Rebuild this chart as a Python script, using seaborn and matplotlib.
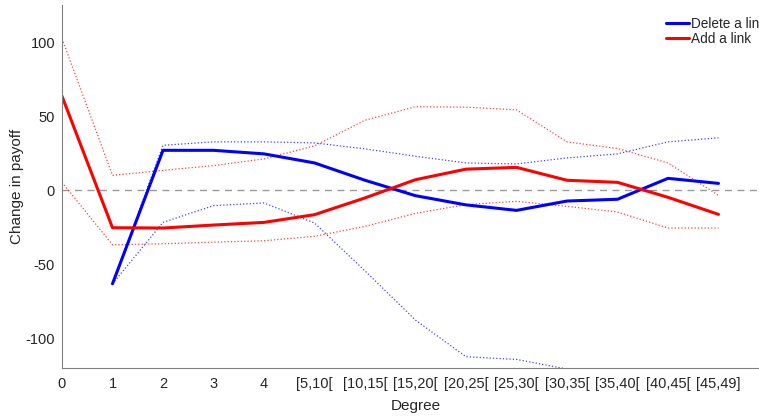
import numpy as np
import pandas as pd
import matplotlib
matplotlib.use("Agg")
import matplotlib.pyplot as plt
import seaborn as sns

categories = ["0", "1", "2", "3", "4", "[5,10[", "[10,15[", "[15,20[", "[20,25[",
              "[25,30[", "[30,35[", "[35,40[", "[40,45[", "[45,49]"]

delete_mean = [np.nan, -63, 27, 27, 24.6, 18.5, 6.8, -3.6, -9.8, -13.5, -7.2, -6.0, 8.1, 4.7]
delete_upper = [np.nan, -63, 30.4, 32.7, 32.7, 32.0, 28.0, 23.0, 18.5, 17.8, 21.9, 24.6, 32.7, 35.4]
delete_lower = [np.nan, -63, -21.6, -10.3, -8.5, -22.0, -54.3, -87.5, -112.2, -114.0, -120.5,
                np.nan, np.nan, np.nan]

add_mean = [63.5, -25.2, -25.4, -23.4, -21.6, -16.4, -5.1, 7.2, 14.3, 15.5, 6.8, 5.4, -4.7, -16.2]
add_upper = [102.3, 10.1, 13.5, 16.7, 21.2, 30.0, 47.3, 56.4, 56.1, 54.3, 32.7, 28.2, 18.5, -3.4]
add_lower = [5.4, -36.7, -36.0, -34.9, -34.0, -31.0, -24.3, -15.5, -9.6, -7.4, -10.8, -14.6, -25.4, -25.4]

sns.set_style("white")
plt.rcParams["font.family"] = ["Liberation Sans", "DejaVu Sans"]
plt.rcParams["axes.unicode_minus"] = False

pos = np.arange(len(categories))
df = pd.DataFrame({
    "pos": pos,
    "delete_mean": delete_mean, "delete_upper": delete_upper, "delete_lower": delete_lower,
    "add_mean": add_mean, "add_upper": add_upper, "add_lower": add_lower,
})

W, H = 759, 417
fig = plt.figure(figsize=(W / 100, H / 100), dpi=100)
x0, x_step = 62, 50.5
ax = fig.add_axes([x0 / W, (H - 368.3) / H, 14 * x_step / W, (368.3 - 5) / H])

ax.axhline(0, color="#9a9a9a", lw=1.0, ls=(0, (5, 4)), zorder=1)

blue, red = "#0000ff", "#ff0000"
for col in ["delete_upper", "delete_lower"]:
    sns.lineplot(data=df, x="pos", y=col, ax=ax, color=blue, lw=0.9, ls=":", alpha=0.75)
for col in ["add_upper", "add_lower"]:
    sns.lineplot(data=df, x="pos", y=col, ax=ax, color=red, lw=0.9, ls=":", alpha=0.75)
sns.lineplot(data=df, x="pos", y="delete_mean", ax=ax, color=blue, lw=2.2, label="Delete a link")
sns.lineplot(data=df, x="pos", y="add_mean", ax=ax, color=red, lw=2.2, label="Add a link")

ax.set_xlim(0, 14)
ax.set_ylim(-120, 125)
ax.set_xticks(pos)
ax.set_xticklabels(categories)
ax.set_yticks([-100, -50, 0, 50, 100])
ax.set_xlabel("Degree", fontsize=11, color="#262626", labelpad=6)
ax.set_ylabel("Change in payoff", fontsize=11, color="#262626", labelpad=1)

for side in ["top", "right"]:
    ax.spines[side].set_visible(False)
for side in ["left", "bottom"]:
    ax.spines[side].set_color("#808080")
    ax.spines[side].set_linewidth(0.8)
ax.tick_params(direction="in", length=4, width=0.8, color="#808080",
               labelcolor="#262626", labelsize=10.5)
ax.tick_params(axis="x", pad=6)
ax.tick_params(axis="y", pad=5)

ax.legend(loc="upper left", bbox_to_anchor=((656 - x0) / (14 * x_step), 0.993),
          frameon=False, fontsize=9.8, handlelength=1.7, handletextpad=0.15,
          labelspacing=0.08, borderaxespad=0.3)

fig.savefig("out.png", dpi=100)
